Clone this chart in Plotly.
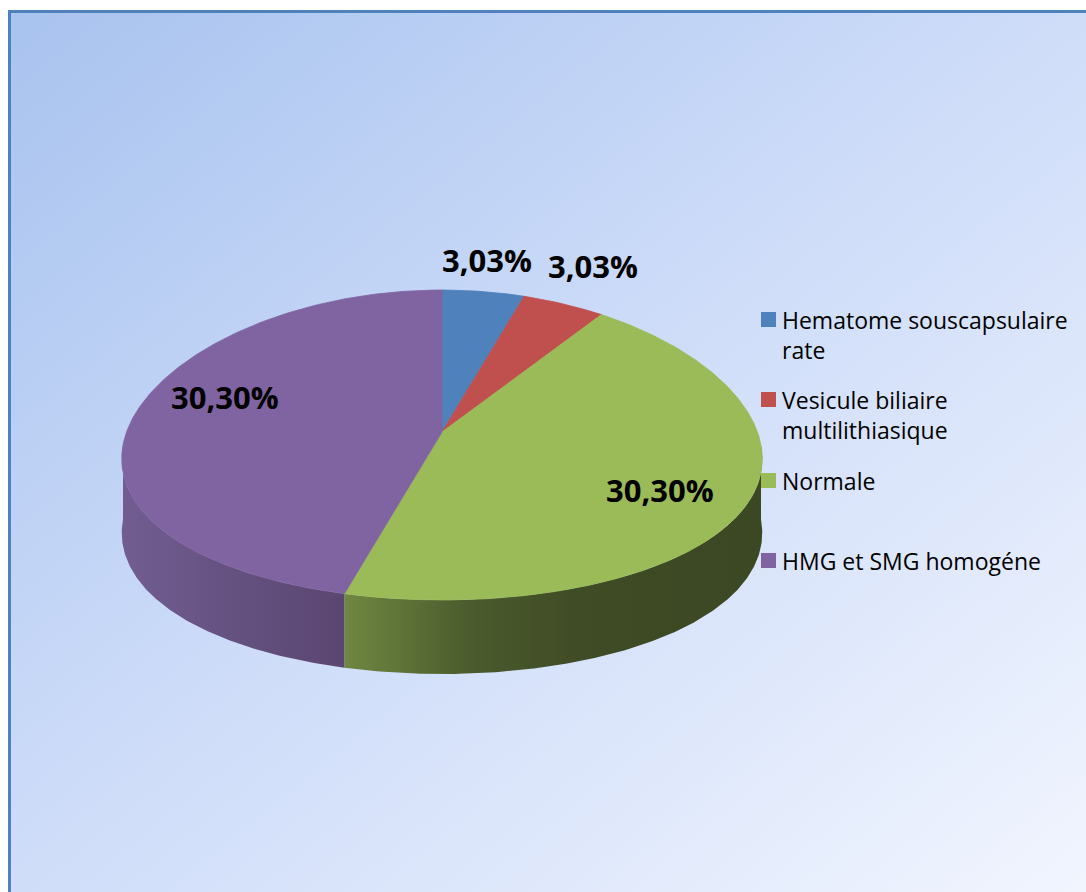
import base64
import numpy as np
import plotly.graph_objects as go

# ---- data -------------------------------------------------------------
categories = [
    "Hematome souscapsulaire rate",
    "Vesicule biliaire multilithiasique",
    "Normale",
    "HMG et SMG homogéne",
]
legend_lines = [
    ["Hematome souscapsulaire", "rate"],
    ["Vesicule biliaire", "multilithiasique"],
    ["Normale"],
    ["HMG et SMG homogéne"],
]
values = [3.03, 3.03, 30.30, 30.30]
value_labels = [f"{v:.2f}".replace(".", ",") + "%" for v in values]

# ---- styling ----------------------------------------------------------
top_colors = ["#4f81bd", "#c0504d", "#9bbb59", "#8064a2"]
wall_scales = [
    [[0, "#3a5f8c"], [1, "#2a4567"]],
    [[0, "#8f3b39"], [1, "#6a2b2a"]],
    [[0, "#6f8741"], [0.3, "#4b5b2d"], [0.55, "#404c26"], [1, "#3c4723"]],
    [[0, "#715d91"], [1, "#5a4670"]],
]

W, H = 1086, 892
CX, CY = 442, 445          # centre of the top ellipse (px)
RX, RY = 319, 155          # radii of the top ellipse (px)
PERSP = 0.09               # horizontal foreshortening of the far side
APEX_DY = -13              # perspective lift of the slice apex
DEPTH = 74                 # thickness of the pie

label_pos = [(487, 260), (593, 266), (660, 490), (225, 397)]
legend_sw_x = 761
legend_text_x = 780
legend_first_line_y = [319.5, 399.5, 480.5, 560.5]
legend_line_gap = 30.5


def arc(t0, t1, dy=0.0, n=None):
    n = n or max(8, int(abs(t1 - t0) * 2))
    t = np.radians(np.linspace(t0, t1, n))
    x = CX + RX * np.sin(t) * (1 - PERSP * np.cos(t))
    y = CY - RY * np.cos(t) + dy
    return x, y


fig = go.Figure()

total = sum(values)
bounds = np.concatenate([[0.0], np.cumsum(values) / total * 360.0])

# side walls (only the front half is visible)
for i in range(len(values)):
    lo, hi = max(bounds[i], 90.0), min(bounds[i + 1], 270.0)
    if lo >= hi:
        continue
    xt, yt = arc(lo, hi)
    xb, yb = arc(hi, lo, DEPTH)
    xs = np.concatenate([xt, xb, xt[:1]])
    ys = np.concatenate([yt, yb, yt[:1]])
    fig.add_trace(go.Scatter(
        x=xs, y=ys, mode="lines", fill="toself",
        line=dict(width=0, color=wall_scales[i][-1][1]),
        fillgradient=dict(type="horizontal", colorscale=wall_scales[i]),
        hoverinfo="skip", showlegend=False,
    ))

# top face wedges
ax, ay = CX, CY + APEX_DY
for i in range(len(values)):
    xa, ya = arc(bounds[i], bounds[i + 1])
    xs = np.concatenate([[ax], xa, [ax]])
    ys = np.concatenate([[ay], ya, [ay]])
    fig.add_trace(go.Scatter(
        x=xs, y=ys, mode="lines", fill="toself",
        fillcolor=top_colors[i],
        line=dict(width=0.8, color=top_colors[i]),
        name=categories[i], hoverinfo="name", showlegend=False,
    ))

# value labels
for (lx, ly), txt in zip(label_pos, value_labels):
    fig.add_annotation(
        x=lx, y=ly, text=f"<b>{txt}</b>", showarrow=False,
        xanchor="center", yanchor="middle",
        font=dict(family="Open Sans", size=31, color="black"),
    )

# legend
shapes = []
for i, lines in enumerate(legend_lines):
    yc = legend_first_line_y[i]
    shapes.append(dict(
        type="rect", xref="x", yref="y",
        x0=legend_sw_x, x1=legend_sw_x + 15, y0=yc - 7.5, y1=yc + 7.5,
        fillcolor=top_colors[i], line=dict(width=0),
    ))
    for k, line in enumerate(lines):
        fig.add_annotation(
            x=legend_text_x, y=yc + k * legend_line_gap, text=line,
            showarrow=False, xanchor="left", yanchor="middle",
            font=dict(family="Open Sans", size=23, color="black"),
        )

# chart frame
shapes.append(dict(
    type="rect", xref="paper", yref="paper",
    x0=9.5 / W, y0=1 - 11.5 / H, x1=1.05, y1=-0.05,
    line=dict(color="#4f81bd", width=3), fillcolor="rgba(0,0,0,0)",
    layer="above",
))

svg = (
    f'<svg xmlns="http://www.w3.org/2000/svg" width="{W}" height="{H}">'
    '<defs><linearGradient id="g" x1="0" y1="0" x2="1" y2="1">'
    '<stop offset="0" stop-color="#a8c3ef"/>'
    '<stop offset="0.5" stop-color="#cfddf9"/>'
    '<stop offset="1" stop-color="#f1f5fe"/>'
    '</linearGradient></defs>'
    '<rect width="100%" height="100%" fill="url(#g)"/></svg>'
)
bg_src = "data:image/svg+xml;base64," + base64.b64encode(svg.encode()).decode()

fig.update_layout(
    width=W, height=H,
    margin=dict(l=0, r=0, t=0, b=0),
    paper_bgcolor="white",
    plot_bgcolor="rgba(0,0,0,0)",
    showlegend=False,
    xaxis=dict(range=[0, W], visible=False, fixedrange=True),
    yaxis=dict(range=[H, 0], visible=False, fixedrange=True),
    shapes=shapes,
    images=[dict(
        source=bg_src, xref="paper", yref="paper",
        x=9 / W, y=1 - 11 / H, sizex=1 - 9 / W, sizey=1 - 11 / H,
        xanchor="left", yanchor="top", sizing="stretch", layer="below",
    )],
)

fig.write_html("out.html")
